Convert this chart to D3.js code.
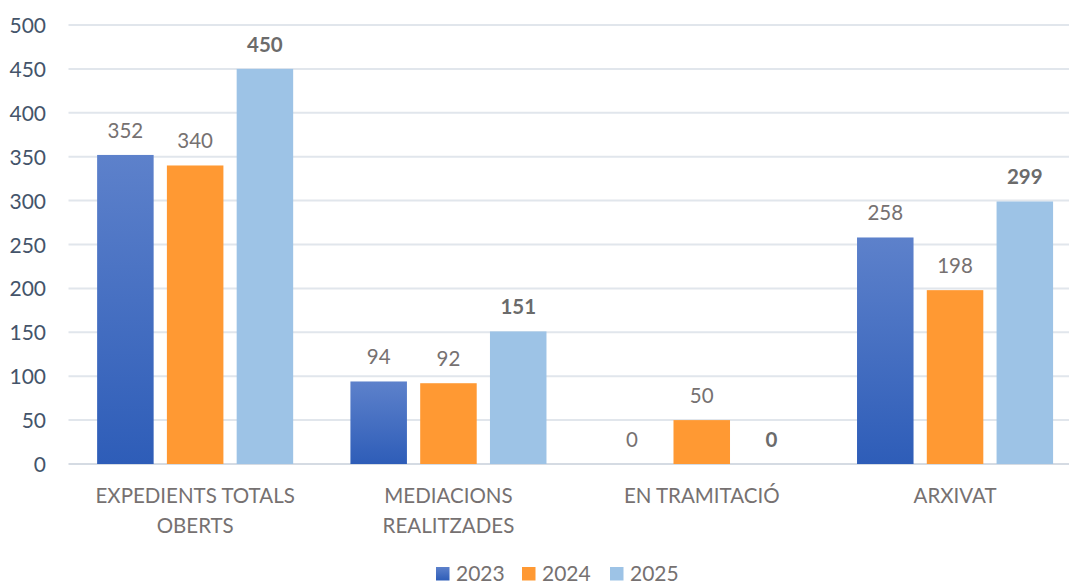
<!DOCTYPE html>
<html>
<head>
<meta charset="utf-8">
<script src="https://cdn.jsdelivr.net/npm/d3@7"></script>
<style>
  html, body { margin: 0; padding: 0; background: #fff; }
  svg { display: block; font-family: Lato, "Open Sans", "Liberation Sans", sans-serif; }
</style>
</head>
<body>
<svg id="chart" width="1069" height="585"></svg>
<script>
// Mediation case counts by status and year
const categories = [["EXPEDIENTS TOTALS", "OBERTS"], ["MEDIACIONS", "REALITZADES"], ["EN TRAMITACIÓ"], ["ARXIVAT"]];
const years = ["2023", "2024", "2025"];
const values2023 = [352, 94, 0, 258];
const values2024 = [340, 92, 50, 198];
const values2025 = [450, 151, 0, 299];
const yTicks = [0, 50, 100, 150, 200, 250, 300, 350, 400, 450, 500];

const series = [values2023, values2024, values2025];
const fills = ["url(#blueGrad)", "#FF9933", "#9DC3E6"];
const swatch = ["url(#blueGrad)", "#FF9933", "#9DC3E6"];

const svg = d3.select("#chart");
const W = 1069, H = 585;
const plot = { left: 68.5, right: 1081.7, top: 25, bottom: 464 };

const defs = svg.append("defs");
const grad = defs.append("linearGradient").attr("id", "blueGrad")
  .attr("x1", 0).attr("y1", 0).attr("x2", 0).attr("y2", 1);
grad.append("stop").attr("offset", "0%").attr("stop-color", "#5D81CB");
grad.append("stop").attr("offset", "100%").attr("stop-color", "#2E5DB8");

const catKeys = categories.map((c, i) => i);
const x0 = d3.scaleBand().domain(catKeys).range([plot.left, plot.right]).paddingInner(0.226).paddingOuter(0.113);
const x1 = d3.scaleBand().domain(years).range([0, x0.bandwidth()]).paddingInner(0.19).paddingOuter(0);
const y = d3.scaleLinear().domain([0, 500]).range([plot.bottom, plot.top]);

// gridlines
svg.append("g").selectAll("line").data(yTicks).join("line")
  .attr("x1", plot.left).attr("x2", W)
  .attr("y1", d => y(d)).attr("y2", d => y(d))
  .attr("stroke", d => d === 0 ? "#d5dbe3" : "#e1e6ec")
  .attr("stroke-width", 2);

// y axis labels
const yAxis = d3.axisLeft(y).tickValues(yTicks).tickSize(0).tickPadding(0);
const gy = svg.append("g").attr("transform", "translate(46,0)").call(yAxis);
gy.select(".domain").remove();
gy.selectAll("text").attr("fill", "#44546A").attr("font-size", 21)
  .attr("font-family", "Lato, 'Open Sans', sans-serif").attr("dy", "0.36em");

// bars
const groups = svg.append("g").selectAll("g").data(catKeys).join("g")
  .attr("transform", d => `translate(${x0(d)},0)`);

years.forEach((yr, si) => {
  groups.append("rect")
    .attr("x", x1(yr))
    .attr("width", x1.bandwidth())
    .attr("y", d => y(series[si][d]))
    .attr("height", d => y(0) - y(series[si][d]))
    .attr("fill", fills[si]);

  groups.append("text")
    .attr("x", x1(yr) + x1.bandwidth() / 2)
    .attr("y", d => y(series[si][d]) - 17)
    .attr("text-anchor", "middle")
    .attr("font-size", 20.5)
    .attr("font-weight", si === 2 ? "bold" : "normal")
    .attr("fill", si === 2 ? "#6b6b6b" : "#767171")
    .text(d => series[si][d]);
});

// category labels
const xl = svg.append("g").selectAll("text").data(catKeys).join("text")
  .attr("x", d => x0(d) + x0.bandwidth() / 2)
  .attr("y", 503)
  .attr("text-anchor", "middle")
  .attr("font-size", 20.5)
  .attr("fill", "#767171");
xl.selectAll("tspan").data(d => categories[d]).join("tspan")
  .attr("x", function() { return d3.select(this.parentNode).attr("x"); })
  .attr("dy", (d, i) => i === 0 ? 0 : 29.5)
  .text(d => d);

// legend
const legendX = [436, 522, 610];
const lg = svg.append("g").selectAll("g").data(years).join("g")
  .attr("transform", (d, i) => `translate(${legendX[i]},567)`);
lg.append("rect").attr("width", 13.5).attr("height", 13.5).attr("fill", (d, i) => swatch[i]);
lg.append("text").attr("x", 20).attr("y", 13.5).attr("font-size", 21).attr("fill", "#767171").text(d => d);
</script>
</body>
</html>
